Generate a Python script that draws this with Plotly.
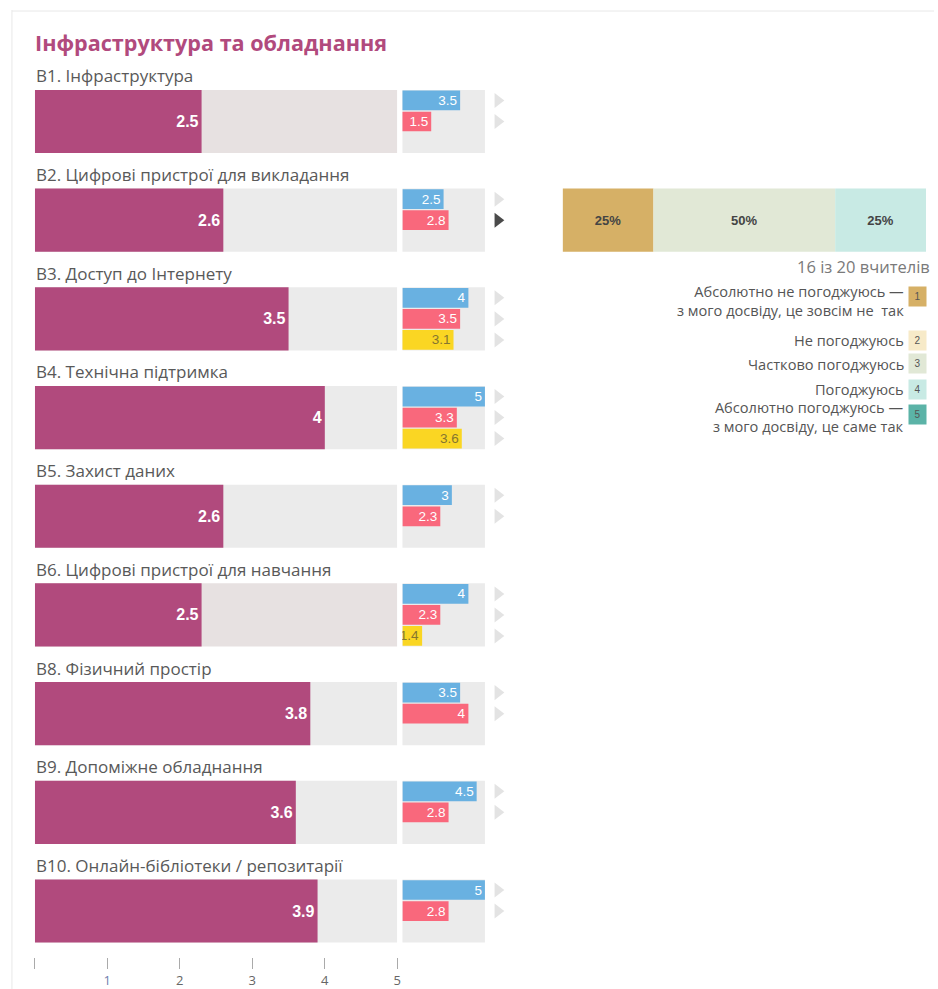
import plotly.graph_objects as go

# дані
rows = ["В1. Інфраструктура", "В2. Цифрові пристрої для викладання", "В3. Доступ до Інтернету",
        "В4. Технічна підтримка", "В5. Захист даних", "В6. Цифрові пристрої для навчання",
        "В8. Фізичний простір", "В9. Допоміжне обладнання", "В10. Онлайн-бібліотеки / репозитарії"]
main_val = [2.3, 2.6, 3.5, 4.0, 2.6, 2.3, 3.8, 3.6, 3.9]
main_txt = ["2.5", "2.6", "3.5", "4", "2.6", "2.5", "3.8", "3.6", "3.9"]
blue_val = [3.5, 2.5, 4, 5, 3, 4, 3.5, 4.5, 5]
blue_txt = ["3.5", "2.5", "4", "5", "3", "4", "3.5", "4.5", "5"]
red_val = [1.75, 2.8, 3.5, 3.3, 2.3, 2.3, 4, 2.8, 2.8]
red_txt = ["1.5", "2.8", "3.5", "3.3", "2.3", "2.3", "4", "2.8", "2.8"]
yel_val = [None, None, 3.1, 3.6, None, 1.2, None, None, None]
yel_txt = ["", "", "3.1", "3.6", "", "1.4", "", "", ""]
bg_col = ["#e7e1e1", "#ebebeb", "#ebebeb", "#ebebeb", "#ebebeb", "#e7e1e1", "#ebebeb", "#ebebeb", "#ebebeb"]

sel_row = 1
shares = [25, 0, 50, 25, 0]
share_col = ["#d6b066", "#f7eac8", "#e1e8d6", "#c8eae4", "#5bb3a7"]
legend_txt = ["Абсолютно не погоджуюсь —<br>з мого досвіду, це зовсім не  так", "Не погоджуюсь",
              "Частково погоджуюсь", "Погоджуюсь", "Абсолютно погоджуюсь —<br>з мого досвіду, це саме так"]
legend_y = [297, 340, 364, 389, 414]
ticks = [0, 1, 2, 3, 4, 5]

W, H = 938, 989
ROW0, STEP = 121.5, 98.69
FONT = "Open Sans, Noto Sans, sans-serif"
BARF = "Arial, Liberation Sans, sans-serif"
MAGENTA = "#b14a7d"

def px(x):
    return x / W

def py(y):
    return 1 - y / H

idx = list(range(len(rows)))
fig = go.Figure()

# фон основних смуг
fig.add_trace(go.Bar(y=idx, x=[5] * len(rows), orientation="h", width=0.64, marker=dict(color=bg_col, line_width=0),
                     xaxis="x", yaxis="y", hoverinfo="skip"))
fig.add_trace(go.Bar(y=idx, x=main_val, orientation="h", width=0.64, marker=dict(color=MAGENTA, line_width=0),
                     text=main_txt, textposition="inside", insidetextanchor="end", constraintext="none",
                     textangle=0, textfont=dict(family=BARF, size=16, color="white", weight="bold"),
                     xaxis="x", yaxis="y"))

# малі смуги
fig.add_trace(go.Bar(y=idx, x=[5] * len(rows), orientation="h", width=0.64, marker=dict(color="#ebebeb", line_width=0),
                     xaxis="x2", yaxis="y", hoverinfo="skip"))
subs = [(blue_val, blue_txt, "#69b1e1", "white", -0.213),
        (red_val, red_txt, "#f9687c", "white", 0.0),
        (yel_val, yel_txt, "#fad623", "#857530", 0.213)]
for vals, txt, col, tcol, off in subs:
    yy = [i + off for i in idx if vals[i] is not None]
    xx = [v for v in vals if v is not None]
    tt = [txt[i] for i in idx if vals[i] is not None]
    fig.add_trace(go.Bar(y=yy, x=xx, orientation="h", width=0.2, marker=dict(color=col, line_width=0),
                         text=tt, textposition="inside", insidetextanchor="end", constraintext="none",
                         textangle=0, textfont=dict(family=BARF, size=13.5, color=tcol),
                         xaxis="x2", yaxis="y"))
    tri_col = ["#4a4a4a" if (i == sel_row and off == 0.0) else "#e3e3e3" for i in idx if vals[i] is not None]
    fig.add_trace(go.Scatter(y=yy, x=[5.78] * len(yy), mode="markers",
                             marker=dict(symbol="triangle-right", size=13, color=tri_col),
                             xaxis="x2", yaxis="y", cliponaxis=False, hoverinfo="skip"))

# розподіл відповідей
base = 0
for s, c in zip(shares, share_col):
    if s > 0:
        fig.add_trace(go.Bar(y=[sel_row], x=[s], base=[base], orientation="h", width=0.64,
                             marker=dict(color=c, line_width=0), text=[f"{s}%"], textposition="inside",
                             insidetextanchor="middle", constraintext="none", textangle=0,
                             textfont=dict(family=BARF, size=13, color="#444", weight="bold"),
                             xaxis="x3", yaxis="y"))
    base += s

ann = []
ann.append(dict(text="Інфраструктура та обладнання", x=px(33), y=py(42), xref="paper", yref="paper",
                xanchor="left", yanchor="middle", showarrow=False,
                font=dict(family=FONT, size=21.6, color=MAGENTA, weight="bold")))
for i, r in enumerate(rows):
    ann.append(dict(text=r, x=px(34), y=i - 0.462, xref="paper", yref="y", xanchor="left", yanchor="middle",
                    showarrow=False, font=dict(family=FONT, size=17, color="#595959")))
ann.append(dict(text="16 із 20 вчителів", x=px(936), y=py(266), xref="paper", yref="paper",
                xanchor="right", yanchor="middle", showarrow=False, font=dict(family=FONT, size=16.5, color="#7a7a7a")))
for k, (t, yy) in enumerate(zip(legend_txt, legend_y)):
    two = "<br>" in t
    ann.append(dict(text=t, x=px(910), y=py(yy + (3 if two else 0)), xref="paper", yref="paper",
                    xanchor="right", yanchor="middle", align="right", showarrow=False,
                    font=dict(family=FONT, size=14.6, color="#555")))
    ann.append(dict(text=str(k + 1), x=px(921), y=py(yy), xref="paper", yref="paper", xanchor="center",
                    yanchor="middle", showarrow=False, bgcolor=share_col[k], width=15, height=17,
                    font=dict(family=BARF, size=10, color="#555")))

fig.update_layout(
    width=W, height=H, autosize=False, margin=dict(l=0, r=0, t=0, b=0),
    paper_bgcolor="white", plot_bgcolor="white", barmode="overlay", showlegend=False,
    annotations=ann,
    xaxis=dict(domain=[px(35), px(399)], range=[0, 5], anchor="free", position=py(957),
               showgrid=False, zeroline=False, showline=False, ticks="outside", ticklen=11,
               tickcolor="#aaaaaa", tickwidth=1, tickvals=ticks,
               ticktext=["", "<span style='color:#6f7fae'>1</span>"] + [str(t) for t in ticks[2:]],
               tickfont=dict(family=FONT, size=13, color="#666")),
    xaxis2=dict(domain=[px(404), px(510)], range=[0, 106 / 16.6], anchor="y", visible=False),
    xaxis3=dict(domain=[px(565), px(930)], range=[0, 100], anchor="y", visible=False),
    yaxis=dict(domain=[0, 1], range=[(H - ROW0) / STEP, -ROW0 / STEP], visible=False),
    shapes=[
        dict(type="line", xref="paper", yref="paper", x0=px(12), x1=px(12), y0=py(10), y1=0,
             line=dict(color="#e8e8e8", width=1)),
        dict(type="line", xref="paper", yref="paper", x0=px(12), x1=1, y0=py(11), y1=py(11),
             line=dict(color="#e8e8e8", width=1)),
    ],
)

# без відступів сторінки
fig.write_html("out.html", config={"displayModeBar": False},
               post_script="document.body.style.margin='0';document.body.style.overflow='hidden';")
